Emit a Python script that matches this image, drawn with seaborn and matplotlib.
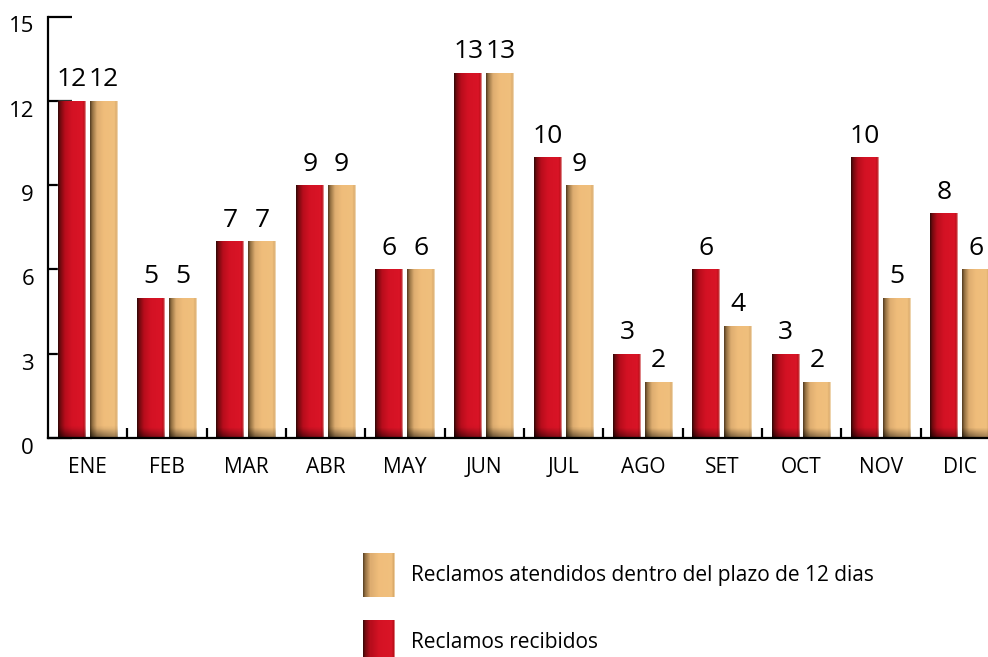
import numpy as np
import pandas as pd
import seaborn as sns
import matplotlib
matplotlib.use("Agg")
import matplotlib.pyplot as plt
import matplotlib.transforms as mtrans
from matplotlib.patches import Rectangle
from matplotlib.legend_handler import HandlerBase

# ---------------- data ----------------
months = ["ENE", "FEB", "MAR", "ABR", "MAY", "JUN", "JUL", "AGO", "SET", "OCT", "NOV", "DIC"]
recibidos = [12, 5, 7, 9, 6, 13, 10, 3, 6, 3, 10, 8]
atendidos = [12, 5, 7, 9, 6, 13, 9, 2, 4, 2, 5, 6]
series_names = ["Reclamos recibidos", "Reclamos atendidos dentro del plazo de 12 dias"]
yticks = [0, 3, 6, 9, 12, 15]

RED = "#cf1020"
TAN = "#f0bd7a"

sns.set_theme(style="white")
plt.rcParams['font.family'] = ['Open Sans', 'DejaVu Sans']
plt.rcParams['text.color'] = 'black'

df = pd.DataFrame({
    "Mes": months * 2,
    "Valor": recibidos + atendidos,
    "Serie": [series_names[0]] * 12 + [series_names[1]] * 12,
})


def make_profile(ts, cols):
    ts = np.array(ts)
    cols = np.array(cols)

    def f(t):
        t = np.atleast_1d(t)
        out = np.stack([np.interp(t, ts, cols[:, k]) for k in range(3)], axis=-1)
        return out
    return f


red_profile = make_profile(
    [0.0, 0.08, 0.25, 0.5, 0.88, 0.95, 1.0],
    [(0.20, 0.03, 0.03), (0.45, 0.04, 0.06), (0.72, 0.05, 0.11), (0.83, 0.07, 0.14),
     (0.85, 0.08, 0.15), (0.74, 0.06, 0.10), (0.92, 0.66, 0.66)])
tan_profile = make_profile(
    [0.0, 0.08, 0.25, 0.5, 0.88, 0.95, 1.0],
    [(0.33, 0.24, 0.13), (0.58, 0.44, 0.26), (0.87, 0.68, 0.44), (0.94, 0.74, 0.48),
     (0.94, 0.75, 0.49), (0.86, 0.67, 0.42), (0.96, 0.88, 0.76)])

fig = plt.figure(figsize=(9.88, 6.57), dpi=100)
ax = fig.add_axes([48 / 988, 219 / 657, 940 / 988, 421.5 / 657])

sns.barplot(data=df, x="Mes", y="Valor", hue="Serie", hue_order=series_names,
            palette=[RED, TAN], width=0.8, gap=0.12, saturation=1,
            errorbar=None, legend=False, ax=ax)

# gradient shading on each bar
profiles = [red_profile, tan_profile]
for cont, prof in zip(ax.containers, profiles):
    for p in cont.patches:
        x0, w, h = p.get_x(), p.get_width(), p.get_height()
        if h <= 0:
            continue
        nx, ny = 60, 120
        tx = np.linspace(0, 1, nx)
        row = prof(tx)  # (nx,3)
        yy = np.linspace(0, h, ny)
        d = np.clip(yy / 0.35, 0, 1)
        img = np.empty((ny, nx, 3))
        for j in range(ny):
            fac = 0.45 + 0.55 * d[j] + (1 - d[j]) * 0.25 * tx
            img[j] = row * np.clip(fac, 0, 1)[:, None]
        im = ax.imshow(img, extent=[x0, x0 + w, 0, h], origin='lower',
                       aspect='auto', interpolation='bilinear', zorder=p.get_zorder() + 0.1)
        im.set_clip_path(p)

# value labels
for cont in ax.containers:
    ax.bar_label(cont, fmt='%g', padding=6, fontsize=19, color='black')

ax.set_xlim(-0.5, 11.35)
ax.set_ylim(0, 15)
ax.set_yticks(yticks)
ax.set_xlabel("")
ax.set_ylabel("")

for s in ["top", "right"]:
    ax.spines[s].set_visible(False)
for s in ["left", "bottom"]:
    ax.spines[s].set_color("black")
    ax.spines[s].set_linewidth(1.6)

ax.tick_params(axis='y', direction='in', length=17, width=1.6, pad=10,
               labelsize=16, colors='black', left=True)
ax.tick_params(axis='x', which='major', length=0, pad=14, labelsize=15,
               colors='black', bottom=True)
ax.set_xticks(np.arange(0.5, 11.5, 1), minor=True)
ax.tick_params(axis='x', which='minor', direction='in', length=7, width=1.6,
               color='black', bottom=True)

offset = mtrans.ScaledTranslation(0, -0.08, fig.dpi_scale_trans)
for t in ax.yaxis.get_major_ticks():
    t.label1.set_transform(t.label1.get_transform() + offset)


class GradHandler(HandlerBase):
    def __init__(self, profile):
        super().__init__()
        self.profile = profile

    def create_artists(self, legend, orig_handle, xdescent, ydescent, width,
                       height, fontsize, trans):
        n = 30
        arts = []
        for i in range(n):
            t = (i + 0.5) / n
            c = self.profile(t)[0]
            r = Rectangle((-xdescent + width * i / n, -ydescent), width / n * 1.08,
                          height, facecolor=c, edgecolor='none', transform=trans)
            arts.append(r)
        return arts


h_red = Rectangle((0, 0), 1, 1)
h_tan = Rectangle((0, 0), 1, 1)
fig.legend(handles=[h_tan, h_red], labels=[series_names[1], series_names[0]],
           handler_map={h_tan: GradHandler(tan_profile), h_red: GradHandler(red_profile)},
           loc='upper left', bbox_to_anchor=(363 / 988, (657 - 553) / 657),
           frameon=False, fontsize=15, handlelength=1.54, handleheight=2.87,
           labelspacing=1.12, handletextpad=0.75, borderpad=0, borderaxespad=0,
           labelcolor='black')

fig.savefig("out.png", dpi=100)
